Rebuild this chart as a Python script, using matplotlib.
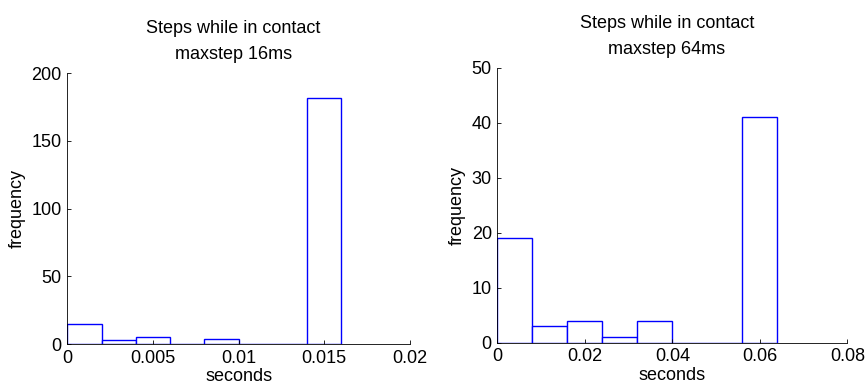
import matplotlib.pyplot as plt
import numpy as np

plt.rcParams['font.family'] = ['Liberation Sans', 'DejaVu Sans']
plt.rcParams['font.size'] = 13

# left histogram: maxstep 16 ms
edges16 = [0.0, 0.002, 0.004, 0.006, 0.008, 0.010, 0.012, 0.014, 0.016]
counts16 = [15, 3, 5, 0, 4, 0, 0, 182]
# right histogram: maxstep 64 ms
edges64 = [0.0, 0.008, 0.016, 0.024, 0.032, 0.040, 0.048, 0.056, 0.064]
counts64 = [19, 3, 4, 1, 4, 0, 0, 41]

xticks16 = [0, 0.005, 0.01, 0.015, 0.02]
xticklabels16 = ['0', '0.005', '0.01', '0.015', '0.02']
yticks16 = [0, 50, 100, 150, 200]
xticks64 = [0, 0.02, 0.04, 0.06, 0.08]
xticklabels64 = ['0', '0.02', '0.04', '0.06', '0.08']
yticks64 = [0, 10, 20, 30, 40, 50]

fig = plt.figure(figsize=(8.66, 3.9), dpi=100)
ax1 = fig.add_axes([0.0777, 0.1179, 0.3957, 0.6941])
ax2 = fig.add_axes([0.5743, 0.1213, 0.4042, 0.7044])


def draw(ax, edges, counts, xticks, xlabels, yticks, title):
    edges = np.array(edges)
    ax.bar(edges[:-1], counts, width=np.diff(edges), align='edge',
           facecolor='white', edgecolor='blue', linewidth=1.0)
    ax.set_xlim(xticks[0], xticks[-1])
    ax.set_ylim(yticks[0], yticks[-1])
    ax.set_xticks(xticks)
    ax.set_xticklabels(xlabels)
    ax.set_yticks(yticks)
    ax.tick_params(direction='in', length=3, width=0.6, pad=4, labelsize=13)
    ax.spines['top'].set_visible(False)
    ax.spines['right'].set_visible(False)
    for s in ('left', 'bottom'):
        ax.spines[s].set_linewidth(0.6)
    ax.set_xlabel('seconds', labelpad=1)
    ax.set_ylabel('frequency', labelpad=4)
    ax.set_title(title, fontsize=13, linespacing=1.7, pad=10, x=0.484)


draw(ax1, edges16, counts16, xticks16, xticklabels16, yticks16,
     'Steps while in contact\nmaxstep 16ms')
draw(ax2, edges64, counts64, xticks64, xticklabels64, yticks64,
     'Steps while in contact\nmaxstep 64ms')

fig.savefig('out.png', dpi=100)
plt.close()
